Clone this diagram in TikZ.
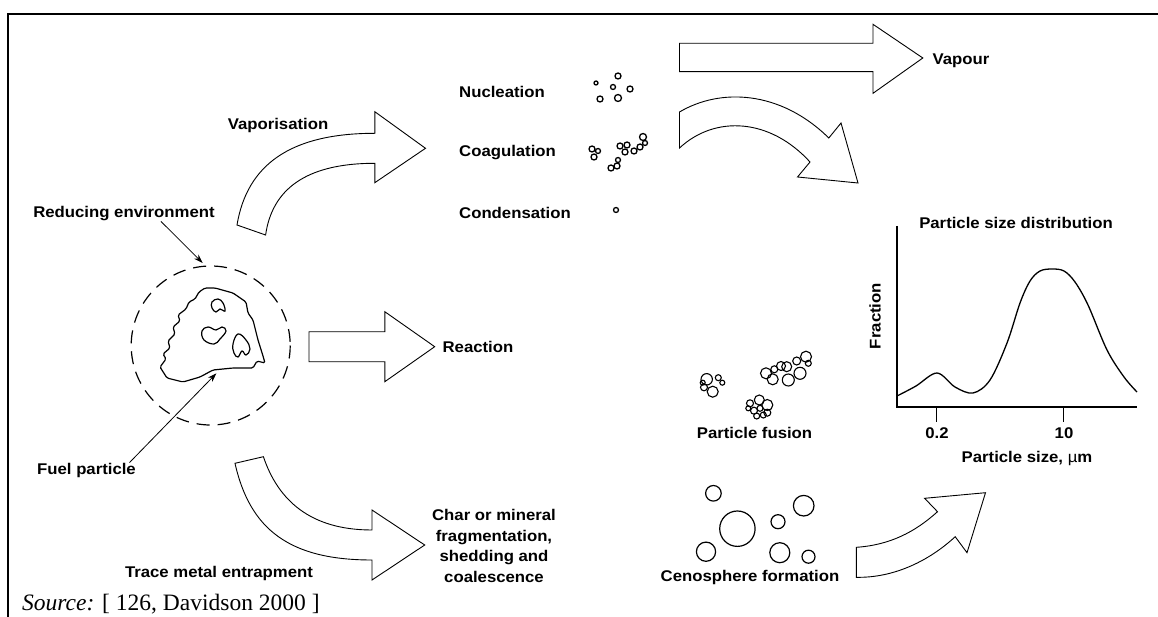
\documentclass[tikz,border=0pt]{standalone}
\usepackage{fontspec}
\setmainfont{Liberation Serif}
\newfontfamily\lblfont[FakeStretch=1.08]{Liberation Sans}
\usetikzlibrary{arrows.meta}

\tikzset{
	lbl/.style={font=\lblfont\bfseries\fontsize{15.5}{20.5}\selectfont, inner sep=0pt},
	blockarrow/.style={draw, line width=0.9pt, line join=miter},
	grain/.style={line width=1.3pt},
	ptr/.style={line width=0.8pt, -{Stealth[length=9pt,width=6pt]}},
	axisline/.style={line width=1.2pt},
}

\begin{document}
\begin{tikzpicture}[x=1pt, y=-1pt]
	\useasboundingbox (0,0) rectangle (1158,617);
	% Frame:
	\draw[line width=2pt] (7.8,617) -- (7.8,14) -- (1158,14);
	% Labels:
	\node[lbl] (reduce) at (124,214) {Reducing environment};
	\node[lbl] (vapor) at (278,125) {Vaporisation};
	\node[lbl, anchor=west] (nucl) at (459,92) {Nucleation};
	\node[lbl, anchor=west] (coag) at (459,153) {Coagulation};
	\node[lbl, anchor=west] (cond) at (459,213) {Condensation};
	\node[lbl] (vapour) at (961,61) {Vapour};
	\node[lbl] (reaction) at (478,347) {Reaction};
	\node[lbl] (fuel) at (86.5,470) {Fuel particle};
	\node[lbl] (trace) at (219,573) {Trace metal entrapment};
	\node[lbl, align=center] (charmin) at (494,546) {Char or mineral\\fragmentation,\\shedding and\\coalescence};
	\node[lbl] (fusion) at (754.5,433) {Particle fusion};
	\node[lbl] (ceno) at (750,577) {Cenosphere formation};
	\node[lbl] (psd) at (1016,223) {Particle size distribution};
	\node[lbl, rotate=90] (fraction) at (875,316) {Fraction};
	\node[lbl] (t02) at (937,433) {0.2};
	\node[lbl] (t10) at (1064,433) {10};
	\node[lbl] (psize) at (1027,458) {Particle size, {\mdseries µ}m};
	\node[anchor=base west, inner sep=0pt, font=\fontsize{23.5}{26}\selectfont] (source) at (22,610.5) {\textit{Source:} [ 126, Davidson 2000 ]};
	% Fuel particle and environment:
	\draw[line width=1.2pt, dash pattern=on 13pt off 8pt] (210.7,345.5) circle[radius=79.5];
	\draw[line width=1.2pt, rounded corners=1.5pt] (205,288) -- (215,288) -- (233,293) -- (246,302) -- (248,313) -- (253,320) -- (258,340) -- (263,356) -- (265,363) -- (257,361) -- (253,368) -- (233,368) -- (213,370) -- (200,377) -- (183,382) -- (167,378) -- (160,367) -- (166,359) -- (163,354) -- (170,348) -- (168,341) -- (175,334) -- (173,327) -- (180,321) -- (178,315) -- (186,309) -- (189,302) -- (195,299) -- (199,292) -- cycle;
	\draw[line width=1.2pt] plot[smooth cycle, tension=0.7] coordinates {(212,302) (218,299) (223,303) (225,311) (220,309) (216,312) (212,308)};
	\draw[line width=1.2pt] plot[smooth cycle, tension=0.7] coordinates {(202,331) (208,327) (216,330) (222,327) (226,331) (220,339) (214,344) (204,340)};
	\draw[line width=1.2pt] plot[smooth cycle, tension=0.7] coordinates {(238,334) (246,340) (250,349) (246,355) (242,351) (238,357) (234,353) (233,344)};
	\coordinate (envtip) at (202.7,263);
	\coordinate (fueltip) at (216.4,373.3);
	\draw[ptr] ([xshift=37pt]reduce.south) -- (envtip);
	\draw[ptr] ([xshift=43pt]fuel.north) -- (fueltip);
	% Block arrows:
	\draw[blockarrow] (237,225) .. controls (247,165) and (290,133.3) .. (374.8,133.3) -- (374.8,111.7) -- (425.5,148.3) -- (374.8,182.7) -- (374.8,163.3) .. controls (305,163.3) and (272,190) .. (265.6,235) -- cycle;
	\draw[blockarrow] (679.5,43.3) -- (873,43.3) -- (873,24.3) -- (922.8,58) -- (873,93.3) -- (873,71.7) -- (679.5,71.7) -- cycle;
	\draw[blockarrow] (679.5,112) .. controls (720,88) and (780,90) .. (828.8,138) -- (841,123) -- (858,183) -- (797.5,177) -- (810,162) .. controls (770,118) and (715,115) .. (679.5,148) -- cycle;
	\draw[blockarrow] (309,331.7) -- (384.8,331.7) -- (384.8,311.7) -- (434.7,346.7) -- (384.8,381.7) -- (384.8,361.7) -- (309,361.7) -- cycle;
	\draw[blockarrow] (235,463.3) .. controls (250,530) and (290,560) .. (372,560) -- (372,580) -- (424.7,545) -- (372,510) -- (372,530) .. controls (310,530) and (278,500) .. (263.4,456.7) -- cycle;
	\draw[blockarrow] (856.4,547.3) .. controls (890,545) and (915,532) .. (937.5,511.7) -- (924.6,498.3) -- (985.5,492.7) -- (967,552.7) -- (955.2,536.7) .. controls (930,560) and (895,578) .. (856.4,577.3) -- cycle;
	% Particles:
	\foreach \x/\y/\r in {596/83/2, 618/76/3, 613/87/2.5, 630/89/3, 600/99/3, 618/98/3.5,
		592/149/3, 598/151/2.5, 594/157/3, 620/146/3, 627/145/3, 625/152/3, 634/151/3, 640/147/3, 643/137/3.5, 645/143/2.5, 611/168/3, 617/166/3, 618/160/2.5,
		616/210/2.5}
		\draw[grain] (\x,\y) circle[radius=\r];
	\foreach \x/\y/\r in {706.7/379.3/5.7, 718.3/377.7/3, 722.3/382.7/2.5, 702.7/382.7/2.5, 704/387.3/3.5, 712.7/391.7/5.5,
		766/373.3/5.5, 774.3/369.3/3.5, 781/366/4.5, 786.7/366.7/5, 796.7/361/4, 806/356.7/5.5, 808.3/363.3/3, 772.7/379.3/5.5, 788.3/380/6, 800/373.3/6,
		759.3/400/5, 750/403.3/3.5, 748.3/408.3/2.5, 754/410.7/3.5, 760/408.3/3, 767.3/405/5.5, 767.3/412.7/3.5, 756.7/416/3, 763.3/415/3}
		\draw[line width=1.1pt] (\x,\y) circle[radius=\r];
	\foreach \x/\y/\r in {713.4/493.3/7.8, 737.4/528.7/17.7, 706/551.7/9.6, 778/521.7/7, 803.7/505.7/10.3, 779.8/552.7/10, 808.5/556.7/6.5}
		\draw[line width=1.2pt] (\x,\y) circle[radius=\r];
	% Size distribution plot:
	\draw[axisline] (897,226) -- (897,407) -- (1137,407);
	\draw[axisline] (936.8,407) -- (936.8,421.7);
	\draw[axisline] (1063.6,407) -- (1063.6,421.7);
	\draw[line width=1.3pt] plot[smooth, tension=0.55] coordinates {(897,396) (916,386) (937,373) (955,387) (973,393) (990,380) (1007,343) (1020,303) (1030,281) (1040,271) (1052,269) (1064,271) (1075,282) (1088,305) (1107,350) (1124,377) (1137,392)};
\end{tikzpicture}
\end{document}
